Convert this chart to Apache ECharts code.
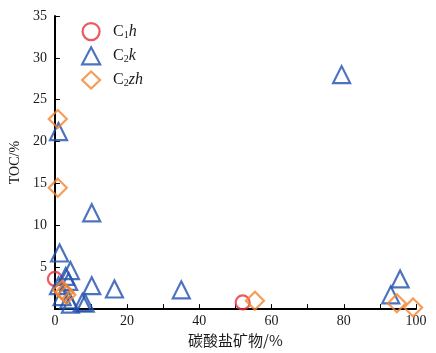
<!DOCTYPE html>
<html>
<head>
<meta charset="utf-8">
<script src="https://cdn.jsdelivr.net/npm/echarts@6/dist/echarts.min.js"></script>
<style>
html,body{margin:0;padding:0;background:#fff}
#myChart{width:436px;height:353px}
</style>
</head>
<body>
<div id="myChart"></div>
<script>
// 碳酸盐矿物含量 vs TOC
let c1h = [[0, 3.6], [52, 0.8]]
let c2k = [
    [1, 21.2], [1.3, 6.7], [4.3, 4.6], [10.2, 11.5], [3, 3.9], [3.8, 3.3],
    [1, 2.8], [2, 1.5], [3.8, 1.1], [4.3, 0.6], [7.6, 0.8], [8.4, 0.7],
    [10.2, 2.8], [16.5, 2.4], [35, 2.3], [79.4, 28], [95.6, 3.6], [93, 1.7]
]
let c2zh = [
    [0.8, 22.7], [0.8, 14.5], [2, 2.3], [2.6, 2.0], [3.2, 1.7],
    [55.4, 1.0], [94.7, 0.7], [99.2, 0.2]
]
let names = ["C1h", "C2k", "C2zh"]
let colors = {C1h: "#e8303a", C2k: "#2250ae", C2zh: "#f2852e"}
let legendText = {
    C1h: "{n|C}{s|1}{i|h}",
    C2k: "{n|C}{s|2}{i|k}",
    C2zh: "{n|C}{s|2}{i|zh}"
}

var myChart = echarts.init(document.getElementById('myChart'));

let serif = "Liberation Serif"
let txt = "#1a1a1a"
let axisStyle = {
    axisLine: {show: true, lineStyle: {color: "#000", width: 2}},
    axisTick: {show: true, inside: true, length: 5, lineStyle: {color: "#000", width: 1}},
    splitLine: {show: false}
}

function mk(name, data, symbol, size){
    return {
        name: name,
        type: "scatter",
        data: data,
        symbol: symbol,
        symbolSize: size,
        clip: false,
        itemStyle: {color: "transparent", borderColor: colors[name], borderWidth: 2.2}
    }
}

var option = {
    animation: false,
    grid: {left: 54, right: 20, top: 16, bottom: 42},
    legend: {
        orient: "vertical",
        left: 76,
        top: 17,
        itemGap: 5,
        itemWidth: 18,
        itemHeight: 17,
        data: names.map(function(n){
            return {name: n, itemStyle: {color: "transparent", borderColor: colors[n], borderWidth: 2.2}}
        }),
        formatter: function(n){ return legendText[n] },
        textStyle: {
            fontFamily: serif, fontSize: 16, color: txt, padding: [0, 0, 0, 8],
            rich: {
                n: {fontFamily: serif, fontSize: 16, color: txt},
                s: {fontFamily: serif, fontSize: 10, color: txt, verticalAlign: "bottom", padding: [7, 0, 0, 0]},
                i: {fontFamily: serif, fontSize: 16, fontStyle: "italic", color: txt}
            }
        }
    },
    xAxis: Object.assign({
        type: "value",
        min: 0, max: 100, interval: 10,
        name: "碳酸盐矿物/%",
        nameLocation: "middle",
        nameGap: 20,
        nameTextStyle: {fontFamily: "Noto Sans CJK SC", fontSize: 15, color: txt},
        axisLabel: {interval: 1, fontFamily: serif, fontSize: 14, color: txt, margin: 5,
            formatter: function(v){ return v % 20 == 0 ? v : "" }}
    }, axisStyle),
    yAxis: Object.assign({
        type: "value",
        min: 0, max: 35, interval: 5,
        name: "TOC/%",
        nameLocation: "middle",
        nameGap: 26,
        nameTextStyle: {fontFamily: serif, fontSize: 14, color: txt},
        axisLabel: {showMinLabel: false, fontFamily: serif, fontSize: 14, color: txt, margin: 8}
    }, axisStyle),
    series: [
        mk("C1h", c1h, "circle", 14),
        mk("C2k", c2k, "triangle", 17),
        mk("C2zh", c2zh, "diamond", 18)
    ]
};

myChart.setOption(option);
</script>
</body>
</html>
